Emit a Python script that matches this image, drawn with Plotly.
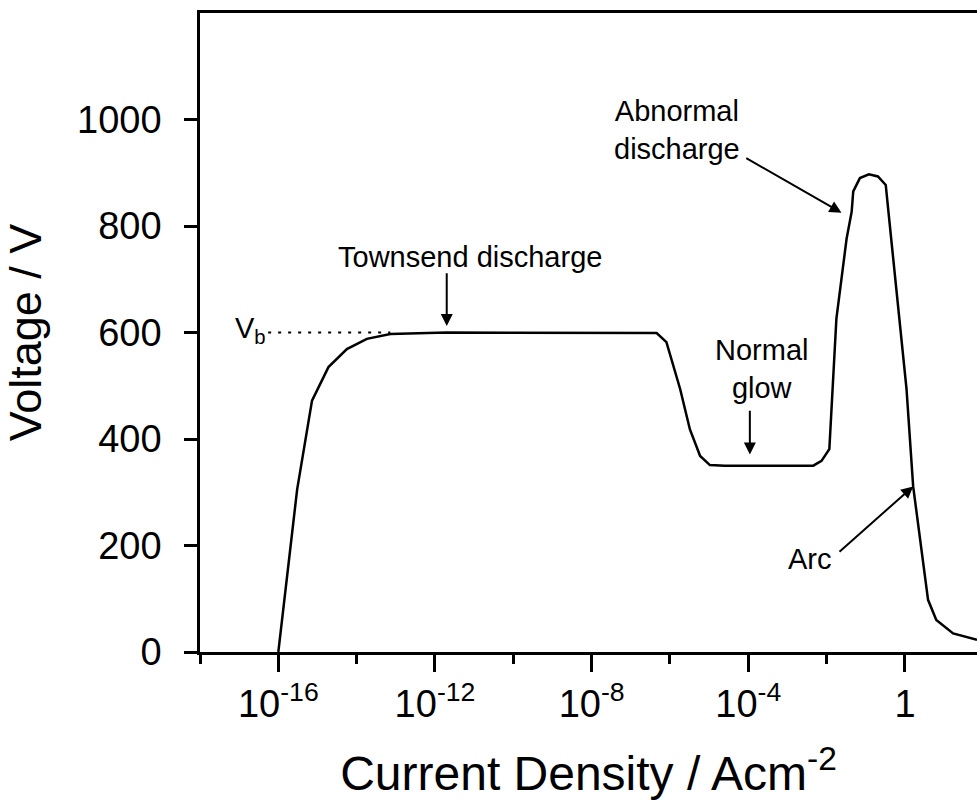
import plotly.graph_objects as go

# ---- data ----
log_j = [-16.0, -15.76, -15.52, -15.14, -14.72, -14.25, -13.74, -13.14, -11.7,
         -6.34, -6.09, -5.74, -5.49, -5.23, -4.98, -4.6, -2.34, -2.13, -1.93,
         -1.75, -1.49, -1.36, -1.32, -1.15, -0.92, -0.69, -0.49, -0.43, -0.30,
         0.04, 0.21, 0.59, 0.80, 1.23, 1.84]
voltage = [0, 148, 305, 472, 535, 569, 588, 597, 600,
           599, 582, 494, 418, 368, 351, 350, 350, 359, 381,
           626, 776, 827, 865, 890, 897, 893, 877, 833, 739,
           494, 311, 98, 60, 35, 23]

major_tick_exp = [-16, -12, -8, -4, 0]
major_tick_text = ["10<sup>-16</sup>", "10<sup>-12</sup>", "10<sup>-8</sup>", "10<sup>-4</sup>", "1"]
minor_tick_exp = [-18, -14, -10, -6, -2]
y_ticks = [0, 200, 400, 600, 800, 1000]

vb_value = 600
vb_line_exp = [-16.26, -13.14]

FONT = "Liberation Sans, Arial, Helvetica, sans-serif"

current = [10 ** e for e in log_j]

fig = go.Figure()
fig.add_trace(go.Scatter(x=current, y=voltage, mode="lines",
                         line=dict(color="black", width=2.5),
                         showlegend=False, hoverinfo="skip"))
fig.add_trace(go.Scatter(x=[10 ** e for e in vb_line_exp], y=[vb_value, vb_value],
                         mode="lines", line=dict(color="black", width=2, dash="3px,7px"),
                         showlegend=False, hoverinfo="skip"))

ann_font = dict(family=FONT, size=29, color="black")
annotations = [
    dict(x=-11.1, y=741, text="Townsend discharge", showarrow=False, font=ann_font,
         xanchor="center", yanchor="middle"),
    dict(x=-3.65, y=531, text="Normal<br>glow", showarrow=False, font=ann_font,
         xanchor="center", yanchor="middle"),
    dict(x=-4.15, y=980, text="Abnormal<br>discharge", showarrow=False, font=ann_font,
         xanchor="right", yanchor="middle", align="center"),
    dict(x=-2.43, y=175, text="Arc", showarrow=False, font=ann_font,
         xanchor="center", yanchor="middle"),
    dict(x=-16.26, y=605, text="V<sub>b</sub>", showarrow=False, font=ann_font,
         xanchor="right", yanchor="middle"),
]
arrows = [
    ((-11.7, 714), (-11.7, 612)),
    ((-3.96, 456), (-3.96, 371)),
    ((-4.09, 929), (-1.62, 825)),
    ((-1.71, 186), (0.21, 311)),
]
for (ax_, ay_), (x_, y_) in arrows:
    annotations.append(dict(x=x_, y=y_, ax=ax_, ay=ay_, xref="x", yref="y",
                            axref="x", ayref="y", text="", showarrow=True,
                            arrowhead=2, arrowsize=1.2, arrowwidth=2, arrowcolor="black"))

fig.update_layout(
    width=977, height=805,
    margin=dict(l=200, r=0, t=13, b=153),
    paper_bgcolor="white", plot_bgcolor="white",
    font=dict(family=FONT, color="black"),
    annotations=annotations,
)
fig.update_xaxes(
    type="log", range=[-18, 1.84],
    tickmode="array", tickvals=[10 ** e for e in major_tick_exp], ticktext=major_tick_text,
    ticks="outside", ticklen=17, tickwidth=2.5, tickcolor="black",
    minor=dict(tickmode="array", tickvals=[10 ** e for e in minor_tick_exp],
               ticks="outside", ticklen=9, tickwidth=2.5, tickcolor="black", showgrid=False),
    tickfont=dict(family=FONT, size=38, color="black"),
    showline=True, linecolor="black", linewidth=2.5, mirror=True,
    showgrid=False, zeroline=False,
    title=dict(text="Current Density / Acm<sup>-2</sup>",
               font=dict(family=FONT, size=48, color="black"), standoff=33),
)
fig.update_yaxes(
    range=[0, 1200], tickmode="array", tickvals=y_ticks,
    ticks="outside", ticklen=13, tickwidth=2.5, tickcolor="black",
    tickfont=dict(family=FONT, size=38, color="black"), ticklabelstandoff=15,
    showline=True, linecolor="black", linewidth=2.5,
    showgrid=False, zeroline=False,
    title=dict(text="Voltage / V", font=dict(family=FONT, size=45, color="black"), standoff=22),
)

fig.write_html("out.html")
